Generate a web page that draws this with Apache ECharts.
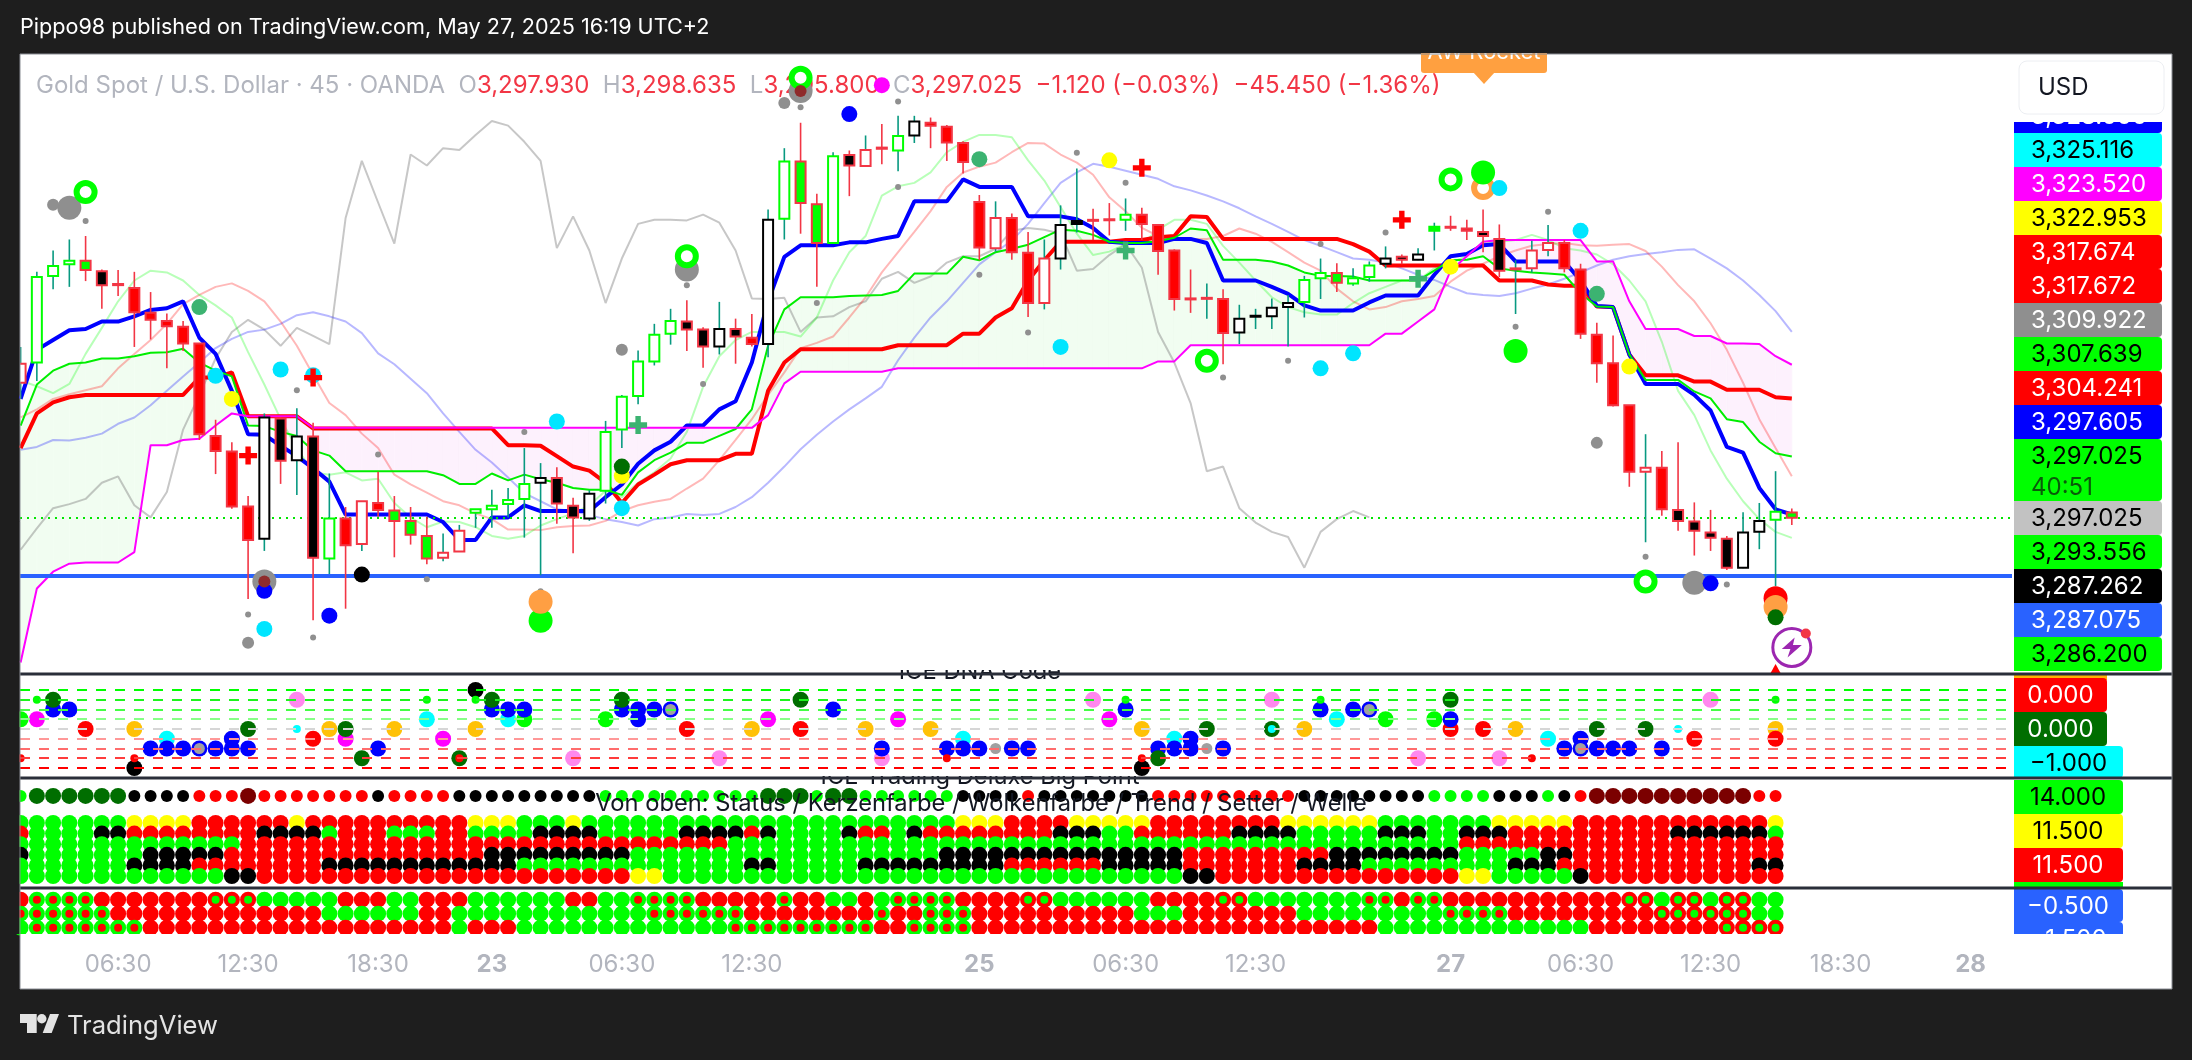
<!DOCTYPE html>
<html><head><meta charset="utf-8">
<style>html,body{margin:0;padding:0;background:#1e1e1e}#c{width:2192px;height:1060px}</style>
<script src="https://cdn.jsdelivr.net/npm/echarts@6/dist/echarts.min.js"></script>
</head><body><div id="c"></div><script>
const bodyTop=[3323.7,3338.7,3340.6,3341.5,3341.5,3339.7,3337.5,3336.8,3332.5,3331.1,
3330.1,3327.2,3311.2,3308.5,3299.0,3314.4,3314.2,3311.1,3311.1,3296.9,
3296.9,3299.9,3299.6,3298.3,3296.5,3293.9,3291.0,3294.8,3298.5,3299.1,
3300.1,3302.9,3303.9,3303.9,3299.1,3301.2,3311.9,3318.0,3324.1,3328.7,
3331.1,3331.0,3329.6,3329.7,3329.7,3328.2,3348.6,3358.7,3358.7,3351.3,
3359.6,3359.8,3360.7,3361.1,3363.1,3365.6,3365.4,3364.7,3361.9,3351.7,
3348.9,3348.9,3342.9,3341.9,3347.7,3348.4,3348.6,3348.7,3349.5,3349.5,
3347.7,3343.3,3335.0,3335.1,3334.9,3331.5,3332.0,3333.4,3334.2,3338.2,
3339.4,3339.4,3338.5,3340.7,3341.9,3342.2,3342.6,3347.4,3347.4,3347.1,
3346.5,3345.3,3340.2,3343.3,3344.6,3344.6,3340.0,3328.7,3323.8,3316.5,
3305.7,3305.7,3298.4,3296.4,3294.5,3293.4,3294.5,3296.5,3298.1,3297.93];
const bodyBottom=[3320.4,3323.9,3338.9,3340.9,3339.9,3337.3,3337.3,3332.6,3331.3,3330.2,
3327.2,3311.5,3308.6,3299.0,3293.2,3293.4,3306.9,3307.0,3290.1,3290.0,
3292.3,3292.5,3298.4,3296.5,3294.1,3290.0,3290.1,3291.2,3297.9,3298.5,
3299.4,3300.3,3303.1,3299.5,3297.1,3296.9,3301.7,3312.3,3318.1,3324.1,
3328.9,3329.6,3326.7,3326.7,3328.4,3327.1,3327.1,3348.8,3351.5,3344.6,
3344.6,3358.0,3357.9,3360.9,3360.6,3363.2,3364.9,3362.0,3358.6,3343.8,
3343.7,3343.0,3334.2,3334.2,3341.9,3347.9,3348.5,3348.6,3348.6,3347.9,
3343.2,3334.9,3334.9,3335.0,3329.0,3329.1,3331.9,3331.9,3333.5,3334.4,
3338.5,3337.7,3337.6,3338.7,3341.0,3341.7,3341.7,3346.7,3347.3,3346.7,
3345.8,3339.8,3340.1,3340.2,3343.4,3340.2,3328.9,3323.8,3316.5,3305.0,
3305.0,3298.5,3296.5,3294.8,3293.6,3288.4,3288.4,3294.6,3296.7,3297.025];
const wickHigh=[3326.6,3339.6,3343.3,3345.2,3345.8,3340.0,3339.9,3339.6,3336.1,3332.4,
3331.1,3327.2,3314.0,3310.1,3300.8,3315.1,3314.4,3316.0,3313.5,3304.7,
3298.9,3299.9,3305.0,3300.8,3298.9,3297.2,3294.3,3295.8,3298.5,3301.9,
3302.2,3309.1,3306.5,3305.8,3300.5,3301.8,3313.8,3318.3,3326.0,3330.6,
3333.2,3334.7,3330.0,3334.4,3331.5,3332.3,3350.4,3361.0,3365.4,3353.1,
3360.3,3360.6,3363.2,3365.2,3366.6,3366.6,3366.3,3365.0,3362.2,3352.9,
3351.8,3349.7,3346.5,3345.2,3351.1,3357.5,3350.5,3351.5,3352.3,3350.7,
3347.9,3343.5,3340.0,3337.6,3336.6,3333.9,3333.2,3335.0,3335.6,3338.9,
3341.9,3341.1,3340.2,3341.4,3344.0,3342.6,3343.7,3348.1,3349.3,3348.6,
3350.4,3347.8,3341.6,3345.0,3347.7,3345.1,3341.0,3330.8,3328.6,3316.5,
3311.5,3308.6,3310.1,3299.7,3298.4,3293.9,3298.0,3299.6,3305.1,3298.635];
const wickLow=[3317.6,3320.7,3336.6,3337.0,3338.0,3333.2,3335.4,3326.6,3327.9,3322.9,
3325.9,3310.5,3304.6,3298.6,3283.0,3291.3,3302.9,3301.0,3279.3,3287.3,
3281.3,3291.3,3297.2,3290.2,3292.4,3289.0,3289.5,3291.2,3295.3,3295.3,
3297.1,3293.6,3287.1,3296.0,3290.9,3296.5,3299.5,3309.1,3316.7,3323.4,
3327.0,3325.9,3323.0,3325.3,3323.7,3326.7,3324.8,3345.2,3346.2,3337.0,
3344.4,3352.7,3357.8,3358.2,3357.0,3361.9,3361.0,3358.8,3356.6,3341.6,
3343.1,3341.7,3331.8,3333.1,3340.0,3346.4,3345.1,3345.9,3346.7,3345.1,
3339.1,3332.9,3332.5,3331.5,3323.6,3327.1,3329.7,3329.7,3326.7,3331.7,
3334.9,3336.1,3337.2,3337.9,3340.2,3340.9,3341.6,3343.3,3346.7,3345.1,
3343.0,3338.7,3332.3,3339.5,3342.3,3339.5,3328.0,3320.4,3316.3,3302.4,
3292.8,3297.4,3294.8,3290.5,3291.3,3288.0,3288.3,3291.6,3285.2,3295.8];
const wickDir="uuuudddddd"+"dddddududu"+"dudddduuuu"+"uuudduuuuu"+"uddudduudd"+"ududuudddd"+"udduuuddud"+"ddduduuuuu"+"uduuuduudd"+"dduuuddddd"+"uddddduuud";
const candleFill="wwwwgkrrrr"+"rrrrrwkwkw"+"rwrgggwwww"+"wwwkkwwwww"+"wkkwkrwwgg"+"wkwrwwrrrr"+"wrrwwkrrwr"+"rrrrrwkwww"+"wgwwwkwgrr"+"kkrwwrrrrr"+"wrkkkkwwwg";
const candleEdge="rgggrrrrrr"+"rrrrrkrkrg"+"rrrrrrrrgg"+"ggkrrkgggg"+"grrkrrkgrr"+"grrrgkrrrr"+"rrrrkkrrgr"+"rrrrrkkkkg"+"grggkrkgrr"+"rrrrrrrrrr"+"rrrrrrkkgr";
const lineBlue=[3317.6,3326.1,3327.8,3329.5,3329.7,3331.0,3331.0,3331.9,3333.0,3333.3,
3334.5,3328.2,3325.4,3319.0,3311.5,3311.4,3309.5,3307.7,3305.6,3303.3,
3297.6,3297.6,3297.6,3297.6,3297.6,3297.6,3296.3,3293.2,3293.2,3297.1,
3297.1,3299.2,3298.2,3298.2,3298.2,3298.2,3300.6,3302.8,3306.4,3308.7,
3310.2,3313.0,3313.0,3315.8,3317.2,3323.9,3334.5,3342.2,3344.2,3344.2,
3344.2,3344.7,3344.7,3345.3,3345.8,3351.8,3351.8,3351.8,3355.6,3354.3,
3354.3,3354.3,3349.2,3349.2,3349.2,3348.7,3347.2,3344.8,3344.6,3344.6,
3344.6,3345.3,3345.3,3344.6,3338.1,3338.1,3338.1,3337.0,3335.8,3333.8,
3332.9,3332.9,3332.9,3334.3,3335.5,3335.5,3335.5,3339.1,3342.3,3342.7,
3344.2,3344.4,3341.4,3341.4,3341.4,3341.4,3338.1,3333.7,3333.5,3325.3,
3320.2,3320.2,3320.2,3318.3,3315.6,3309.3,3308.3,3302.2,3298.5,3297.605];
const lineRed=[3309.1,3315.1,3317.0,3317.9,3318.3,3318.3,3318.3,3318.3,3318.3,3318.3,
3318.3,3321.3,3321.3,3322.2,3314.6,3314.6,3314.6,3314.6,3312.5,3312.5,
3312.5,3312.5,3312.5,3312.5,3312.5,3312.5,3312.5,3312.5,3312.5,3312.5,
3309.6,3309.6,3309.5,3307.7,3305.9,3305.2,3303.1,3299.6,3302.8,3304.5,
3306.3,3307.0,3307.0,3307.0,3308.1,3308.1,3319.0,3323.9,3326.2,3326.2,
3326.2,3326.2,3326.2,3326.2,3326.9,3326.9,3326.9,3326.9,3328.9,3328.9,
3331.7,3333.3,3338.1,3341.6,3344.8,3344.8,3344.8,3344.8,3345.1,3345.1,
3345.6,3345.8,3349.2,3349.1,3345.3,3345.3,3345.3,3345.3,3345.3,3345.3,
3345.3,3345.3,3344.4,3343.1,3340.7,3340.7,3340.7,3340.7,3340.7,3340.7,
3340.7,3338.1,3338.1,3338.1,3337.4,3337.2,3337.2,3333.6,3333.5,3325.3,
3321.7,3321.7,3321.7,3320.6,3320.6,3319.2,3319.2,3319.2,3317.9,3317.674];
const lineGreen=[3313.0,3320.1,3322.5,3323.7,3323.9,3324.6,3324.6,3325.0,3325.6,3325.7,
3326.3,3323.9,3322.5,3321.5,3313.0,3312.9,3311.9,3311.2,3308.7,3307.8,
3305.1,3305.1,3305.1,3305.1,3305.1,3305.1,3304.4,3302.9,3302.9,3304.7,
3303.5,3304.5,3303.7,3303.1,3302.2,3301.9,3301.9,3301.0,3304.9,3307.0,
3308.3,3310.0,3310.0,3311.2,3312.4,3315.8,3326.8,3333.1,3335.2,3335.2,
3335.2,3335.4,3335.5,3335.6,3336.3,3339.3,3339.3,3339.3,3342.2,3341.6,
3343.0,3343.6,3344.3,3345.6,3346.9,3346.7,3346.0,3344.8,3344.6,3344.6,
3344.9,3345.5,3347.1,3346.8,3341.7,3341.7,3341.7,3341.4,3340.7,3339.5,
3338.9,3338.9,3338.8,3338.1,3338.1,3338.1,3338.1,3339.8,3341.6,3341.7,
3342.3,3340.2,3339.8,3339.5,3339.3,3339.1,3335.9,3333.6,3333.5,3325.3,
3320.9,3320.9,3320.9,3318.9,3317.7,3314.1,3313.6,3310.2,3308.2,3307.639];
const lineMagenta=[3272.0,3284.8,3287.7,3289.1,3289.3,3289.3,3289.3,3291.1,3309.6,3309.6,
3310.5,3310.7,3313.0,3315.1,3314.6,3314.6,3314.6,3314.6,3312.6,3312.6,
3312.6,3312.6,3312.6,3312.6,3312.6,3312.6,3312.6,3312.6,3312.6,3312.6,
3312.6,3312.6,3312.6,3312.6,3312.6,3312.6,3312.6,3312.6,3312.6,3312.6,
3312.6,3312.6,3312.6,3312.6,3312.6,3312.6,3314.8,3320.3,3322.3,3322.3,
3322.3,3322.3,3322.3,3322.3,3322.9,3322.9,3322.9,3322.9,3322.9,3322.9,
3322.9,3322.9,3322.9,3322.9,3322.9,3322.9,3322.9,3322.9,3322.9,3322.9,
3324.1,3324.1,3326.9,3326.9,3326.9,3326.9,3326.9,3326.9,3326.9,3326.9,
3326.9,3326.9,3326.9,3326.9,3328.9,3328.9,3331.0,3333.1,3339.8,3342.3,
3344.8,3345.1,3345.1,3345.1,3345.1,3345.1,3345.1,3341.4,3341.4,3334.5,
3329.7,3329.7,3329.7,3328.5,3328.5,3327.2,3327.2,3327.1,3325.0,3323.52];
const lineFadedGreen=[3320.8,3319.8,3318.6,3320.2,3325.4,3329.9,3334.5,3338.1,3339.8,3339.5,
3338.1,3335.6,3333.8,3331.7,3325.7,3320.1,3314.1,3309.1,3304.9,3304.5,
3304.9,3303.5,3303.8,3299.6,3297.1,3295.4,3296.4,3296.3,3295.4,3293.9,
3293.4,3293.9,3295.7,3296.8,3297.8,3299.2,3301.7,3300.6,3303.1,3304.9,
3307.3,3311.9,3319.7,3325.0,3327.8,3329.2,3329.2,3329.2,3328.4,3331.7,
3338.1,3343.0,3345.8,3352.8,3354.4,3355.0,3356.8,3360.3,3362.1,3363.3,
3363.3,3362.9,3358.9,3355.4,3350.8,3346.2,3342.5,3343.1,3344.4,3344.4,
3346.9,3348.6,3348.6,3347.9,3344.1,3341.2,3338.1,3335.2,3333.5,3332.6,
3332.2,3332.2,3334.2,3335.9,3337.0,3338.1,3338.1,3340.2,3341.2,3342.3,
3344.8,3344.8,3345.1,3346.0,3345.1,3343.7,3343.3,3342.6,3340.9,3338.1,
3334.5,3327.5,3319.0,3314.8,3308.7,3303.8,3299.9,3296.8,3294.6,3293.556];
const lineFadedRed=[3314.4,3315.8,3317.6,3318.4,3319.1,3319.8,3322.9,3325.4,3327.8,3330.6,
3334.0,3335.6,3337.0,3337.6,3336.3,3334.5,3331.0,3326.8,3321.8,3316.9,
3314.8,3311.6,3309.1,3304.5,3302.8,3301.4,3299.9,3299.2,3297.8,3296.8,
3295.0,3295.0,3294.9,3295.4,3295.6,3295.7,3296.5,3298.2,3299.2,3299.8,
3300.3,3302.1,3303.8,3307.0,3310.5,3314.1,3318.3,3322.2,3326.4,3327.3,
3328.4,3331.7,3335.2,3339.5,3343.0,3346.5,3350.1,3354.3,3356.8,3357.8,
3358.5,3360.3,3361.9,3361.8,3359.9,3358.5,3356.4,3352.5,3350.1,3347.2,
3345.8,3345.3,3345.3,3345.3,3345.8,3347.1,3346.2,3344.8,3343.0,3341.2,
3339.8,3336.7,3334.5,3333.1,3333.5,3334.5,3334.9,3335.4,3337.9,3339.8,
3341.0,3342.3,3343.3,3344.1,3344.4,3344.6,3344.2,3344.1,3344.3,3344.4,
3343.2,3340.5,3337.3,3334.5,3330.7,3326.1,3320.4,3314.1,3309.1,3304.241];
const lineFadedBlue=[3308.8,3309.3,3310.5,3310.4,3310.9,3311.6,3313.3,3314.4,3316.5,3319.0,
3321.5,3323.9,3326.4,3328.0,3329.2,3329.6,3330.6,3332.1,3332.6,3331.9,
3331.0,3329.0,3325.5,3323.6,3321.1,3318.6,3315.1,3311.9,3308.8,3306.6,
3304.0,3301.3,3299.9,3298.5,3298.2,3297.5,3296.8,3296.3,3295.7,3296.8,
3297.1,3297.7,3297.5,3297.7,3298.9,3300.6,3303.1,3305.9,3308.9,3311.4,
3313.7,3315.8,3317.7,3319.7,3324.3,3328.2,3331.7,3334.5,3337.7,3340.9,
3343.0,3345.0,3347.9,3351.5,3355.0,3356.8,3358.3,3357.8,3357.1,3356.4,
3355.7,3354.4,3353.7,3352.8,3351.8,3350.6,3349.2,3347.9,3346.5,3345.1,
3344.1,3343.0,3341.9,3341.7,3341.2,3340.2,3339.1,3338.2,3337.0,3335.9,
3335.6,3335.4,3335.9,3336.7,3337.4,3338.4,3339.5,3340.7,3341.7,3342.3,
3342.7,3343.0,3343.4,3343.5,3341.9,3340.2,3338.1,3335.6,3332.8,3329.2];
const lineGray=[3291.5,3295.2,3298.7,3299.4,3300.3,3303.1,3304.2,3299.2,3297.1,3301.5,
3312.3,3318.3,3324.6,3329.2,3331.3,3329.6,3326.8,3329.9,3328.5,3327.1,
3348.9,3358.8,3351.6,3344.5,3359.9,3358.0,3361.0,3360.7,3363.3,3365.7,
3364.9,3362.1,3358.8,3343.7,3349.2,3343.3,3334.2,3341.9,3347.9,3348.6,
3348.6,3348.5,3349.5,3348.1,3343.3,3335.0,3334.9,3335.1,3329.2,3331.7,
3331.9,3333.5,3334.5,3338.4,3339.6,3337.7,3338.8,3341.2,3342.3,3342.3,
3343.6,3346.7,3347.2,3346.9,3346.2,3339.8,3340.1,3342.5,3344.4,3340.3,
3329.2,3323.9,3316.9,3305.1,3305.9,3298.7,3296.2,3294.6,3293.7,3288.4,
3294.6,3296.8,3298.2,3297.1];
const lastClose=3297.025, supportLevel=3287.075;

const grayTiny=[[4,3348.4],[17,3319.1],[14,3280.3],[18,3276.3],[22,3308.0],[25,3286.4],[31,3311.9],[32,3284.3],[41,3337.3],[48,3368.1],[54,3369.1],[54,3354.3],[42,3320.2],[49,3334.2],[59,3339.1],[62,3329.1],[65,3360.2],[68,3355.0],[74,3321.3],[78,3324.2],[80,3344.4],[84,3346.4],[90,3352.7],[94,3350.0],[92,3330.1],[100,3290.3],[105,3285.5]];
const grayMid=[[2,3351.2],[14,3275.4],[37,3326.1],[47,3368.8],[97,3310.0]];
const grayBig=[[3,3350.7],[15,3286.0],[41,3340.0],[48,3370.9],[103,3285.8]];
const darkRedCore=[[15,3286.0],[48,3370.9]];
const ringGreen=[[4,3353.4],[41,3342.3],[48,3373.2],[73,3324.2],[88,3355.6],[100,3286.0]];
const ringOrange=[[90,3354.1]];
const dotSeaGreen=[[11,3333.5],[59,3359.1],[97,3335.8]];
const dotCyan=[[12,3321.6],[16,3322.7],[18,3321.7],[15,3277.8],[33,3313.7],[37,3298.7],[64,3326.6],[80,3322.9],[82,3325.5],[91,3354.1],[96,3346.7]];
const dotYellow=[[13,3317.6],[37,3304.3],[67,3358.9],[88,3340.5],[99,3323.2]];
const dotBlue=[[15,3284.4],[19,3280.1],[51,3366.9],[104,3285.7]];
const dotBlack=[[21,3287.2]];
const dotDarkGreen=[[37,3305.9],[108,3279.8]];
const bigOrange=[[32,3282.5],[108,3281.6]];
const bigGreen=[[32,3279.2],[90,3356.8],[92,3325.9]];
const bigRed=[[108,3283.1]];
const dotMagenta=[[53,3371.9]];
const plusRed=[[14,3307.8],[18,3321.3],[69,3357.6],[85,3348.6]];
const plusGreen=[[38,3313.1],[68,3343.3],[86,3338.4]];
const alertIcon=[[109,3274.6]];
const alertTriangle=[[108,3270.0]];

const dnaLevels=[4,3,2,1,0,-1,-2,-3,-4];
const dnaGreen=[[0,1],[31,1],[36,1],[84,1],[87,1]];
const dnaCyan=[[9,-1],[25,1],[30,1],[58,-1],[71,-1],[81,1],[94,-1]];
const dnaMagenta=[[1,1],[20,-1],[26,-1],[46,1],[54,1],[67,1]];
const dnaPink=[[17,3],[34,-3],[43,-3],[53,-3],[66,3],[77,3],[86,-3],[91,-3],[104,3]];
const dnaOrange=[[7,0],[19,0],[23,0],[28,0],[45,0],[52,0],[56,0],[69,0],[79,0],[92,0],[108,0]];
const dnaRed=[[4,0],[18,-1],[41,0],[48,0],[88,0],[90,0],[103,-1],[108,-1]];
const dnaBlue=[[2,2],[3,2],[8,-2],[9,-2],[10,-2],[11,-2],[12,-2],[13,-1],[13,-2],[14,-2],[22,-2],[29,2],[30,2],[31,2],[37,2],[38,2],[38,1],[39,2],[40,2],[50,2],[53,-2],[57,-2],[58,-2],[59,-2],[61,-2],[62,-2],[68,2],[70,-2],[71,-2],[72,-1],[72,-2],[74,-2],[80,2],[82,2],[83,2],[88,1],[95,-2],[96,-1],[96,-2],[97,-2],[98,-2],[99,-2],[101,-2]];
const dnaDarkGreen=[[2,3],[14,0],[20,0],[21,-3],[27,-3],[29,3],[37,3],[48,3],[70,-3],[73,0],[77,0],[88,3],[97,0],[100,0]];
const dnaBlack=[[7,-4],[28,4],[69,-4]];
const dnaGrayCore=[[11,-2],[40,2],[83,2],[96,-2]];
const dnaGraySmall=[[60,-2],[73,-2]];
const dnaGreenSmall=[[1,3],[25,3],[28,3],[68,3],[80,3],[108,3]];
const dnaRedSmall=[[0,-3],[7,-3],[27,-3],[57,-3],[69,-3],[93,-3]];
const dnaCyanSmall=[[17,0],[77,0],[102,0]];

const rowStatus="G1D6k4r3M1r7k1r4k9G10D3G1D2G6k4r1k7r9k8G4k3G1k1r1M10r2";
const rowCandle="g7y4r6y1r10y3g3y1g23y3r4y5r8y6g7y5r12y1";
const rowCloud="r1g4k2r8k4g1r3g3r2g4k4g5k4r1k1g4k1r2g1k1r8k3g2r6k4g5k3g2k3r10k6g1";
const rowTrend="g14r30g45r20";
const rowSetter="k1g7k5r16k9g19k15r9k8g5k2r13";
const rowWave="g7k4r8k12g14k2g5k9r6k5r7k4g9k3r12k2";
const rowBottom="g13k2r23y2g32k2r15y2g5k1r12";
const rowLowerA="r1a4r7b3g5r3g2r3g6r2g2a4r5a1r2g2r1g1a4r4b2g6r4b2g7a2r1a2r11b2g1b2g1b2g2";
const rowLowerB="a6r13g6r2g12a6r8a1r2a3r10g3r7g9a4r9b6g2";
const rowLowerC="g1a7r19g1r3g13a9r2a4r25g13r8b4";

const timeTicks=[6,14,22,29,37,45,59,68,76,88,96,104,112,120];
const timeLabels=['06:30','12:30','18:30','23','06:30','12:30','25','06:30','12:30','27','06:30','12:30','18:30','28'];
const priceLabels=['3,328.000','3,325.116','3,323.520','3,322.953','3,317.674','3,317.672','3,309.922','3,307.639','3,304.241','3,297.605','3,297.025','3,297.025','3,293.556','3,287.262','3,287.075','3,286.200'];
const countdownLabel='40:51';
const dnaAxisLabels=['0.000','0.000','\u22121.000'];
const bigAxisLabels=['14.000','11.500','11.500'];
const lowerAxisLabels=['\u22120.500','\u22121.500'];

function expand(s){const o=[];s.replace(/([a-zA-Z])(\d+)/g,(m,c,n)=>{for(let k=0;k<+n;k++)o.push(c);return m});return o;}

const X0=-0.037, X1=122.55;
const C={w:'#ffffff',g:'#00ff00',r:'#ff0000',k:'#000000',y:'#ffff00',G:'#00ff00',D:'#006e00',M:'#7b0000'};
const EDGE={g:'#00ff00',r:'#f23645',k:'#000000'};
const FONT='Inter, "Noto Sans", sans-serif';

const candleData=bodyTop.map((t,i)=>[i,t,bodyBottom[i],wickHigh[i],wickLow[i]]);
function renderCandle(params,api){
  const i=api.value(0),x=api.coord([i,0])[0];
  const yT=api.coord([i,api.value(1)])[1],yB=api.coord([i,api.value(2)])[1],yH=api.coord([i,api.value(3)])[1],yL=api.coord([i,api.value(4)])[1];
  const wick=wickDir[i]==='u'?'#089981':'#f23645';
  const h=Math.max(yB-yT,1);
  return {type:'group',children:[
    {type:'line',shape:{x1:x,y1:yH,x2:x,y2:yL},style:{stroke:wick,lineWidth:1.6}},
    {type:'rect',shape:{x:x-5,y:yT,width:10,height:h},style:{fill:C[candleFill[i]],stroke:EDGE[candleEdge[i]],lineWidth:2}}
  ]};
}
const cloudData=lineGreen.slice(0,-1).map((g,i)=>[i,g,lineMagenta[i],lineGreen[i+1],lineMagenta[i+1]]);
function renderCloud(params,api){
  const i=api.value(0),a=api.value(1),b=api.value(2),c=api.value(3),d=api.value(4);
  const col=(a+c)>=(b+d)?'#f1fdf1':'#fdf1fd';
  return {type:'polygon',shape:{points:[api.coord([i,a]),api.coord([i+1,c]),api.coord([i+1,d]),api.coord([i,b])]},style:{fill:col,stroke:col,lineWidth:0.6}};
}
function renderAlertTriangle(params,api){
  const p=api.coord([api.value(0),api.value(1)]);
  return {type:'polygon',shape:{points:[[p[0],p[1]-10],[p[0]+10,p[1]+8],[p[0]-10,p[1]+8]]},style:{fill:'#ff0000'}};
}
const line=(data,color,width,z)=>({type:'line',xAxisIndex:0,yAxisIndex:0,data:data.map((v,i)=>[i,v]),showSymbol:false,symbol:'none',lineStyle:{color,width},z,silent:true});
const dots=(data,color,size,z,extra)=>Object.assign({type:'scatter',xAxisIndex:0,yAxisIndex:0,data,symbol:'circle',symbolSize:size,itemStyle:{color,opacity:1},z:z||6,silent:true},extra||{});
const ring=(data,color)=>({type:'scatter',xAxisIndex:0,yAxisIndex:0,data,symbol:'circle',symbolSize:18,itemStyle:{color:'#ffffff',borderColor:color,borderWidth:6,opacity:1},z:6,silent:true});
const PLUS='path://M35 0H65V35H100V65H65V100H35V65H0V35H35Z';
const BOLT='path://M60 0L15 58H45L35 100L85 38H54Z';
const dna=(data,color,size)=>({type:'scatter',xAxisIndex:1,yAxisIndex:1,data,symbol:'circle',symbolSize:size||16,itemStyle:{color,opacity:1},z:3,silent:true});
const dnaColors=['#00ff00','#1cf51c','#44ff44','#88ff88','#d6d6d6','#ff9898','#ff6c6c','#ff3c3c','#ff0000'];
const bigRow=(str,y)=>({type:'scatter',xAxisIndex:2,yAxisIndex:2,data:expand(str).map((c,i)=>[i,y,c]),symbol:'circle',symbolSize:16,itemStyle:{color:p=>C[p.data[2]],opacity:1},z:3+0.01*(5-y),silent:true});
const statusRow={type:'scatter',xAxisIndex:2,yAxisIndex:2,data:expand(rowStatus).map((c,i)=>[i,7.55,c]),symbol:'circle',symbolSize:(v)=>(v[2]==='D'||v[2]==='M')?16:12,itemStyle:{color:p=>C[p.data[2]],opacity:1},z:3,silent:true};
const lowerOuter=(str,y)=>({type:'scatter',xAxisIndex:3,yAxisIndex:3,data:expand(str).map((c,i)=>[i,y,c]),symbol:'circle',symbolSize:16,itemStyle:{color:p=>(p.data[2]==='g'||p.data[2]==='a')?'#00ff00':'#ff0000',opacity:1},z:3,silent:true});
const lowerInner=(str,y)=>({type:'scatter',xAxisIndex:3,yAxisIndex:3,data:expand(str).map((c,i)=>[i,y,c]).filter(d=>d[2]==='a'||d[2]==='b'),symbol:'circle',symbolSize:8,itemStyle:{color:p=>p.data[2]==='a'?'#ff0000':'#00ff00',opacity:1},z:4,silent:true});

const series=[
 {type:'custom',xAxisIndex:0,yAxisIndex:0,data:cloudData,renderItem:renderCloud,encode:{x:0,y:[1,2,3,4]},z:2,silent:true,clip:true},
 line(lineGray,'rgba(130,130,130,0.45)',2,3),
 line(lineFadedBlue,'rgba(0,0,255,0.28)',2,3),
 line(lineFadedRed,'rgba(255,0,0,0.28)',2,3),
 line(lineFadedGreen,'rgba(0,255,0,0.28)',2,3),
 Object.assign(line(lineRed,'#ff0000',4,4),{markLine:{silent:true,symbol:'none',label:{show:false},animation:false,data:[{yAxis:lastClose,lineStyle:{color:'#00e600',type:[2,5],width:2}},{yAxis:supportLevel,lineStyle:{color:'#2962ff',type:'solid',width:4}}]}}),
 line(lineBlue,'#0000ff',4,4),
 line(lineGreen,'#00ee00',2,4),
 line(lineMagenta,'#ff00ff',2,4),
 {type:'custom',xAxisIndex:0,yAxisIndex:0,data:candleData,renderItem:renderCandle,encode:{x:0,y:[1,2,3,4]},z:5,silent:true,clip:true},
 dots(grayBig,'#8f8f8f',24),dots(grayMid,'#8f8f8f',12),dots(grayTiny,'#8f8f8f',6),
 dots(darkRedCore,'#8f2a2a',12,7),
 ring(ringGreen,'#00ff00'),ring(ringOrange,'#ff9f43'),
 dots(dotCyan,'#00e5ff',16),dots(dotSeaGreen,'#3cb371',16),dots(dotYellow,'#ffff00',16),dots(dotBlue,'#0000ff',16),dots(dotBlack,'#000000',16),dots(dotMagenta,'#ff00ff',16),
 dots(bigRed,'#ff0000',24,6),dots(bigGreen,'#00ff00',24,6),dots(bigOrange,'#ff9f43',24,7),dots(dotDarkGreen,'#006e00',16,8),
 dots(plusRed,'#ff0000',18,8,{symbol:PLUS}),dots(plusGreen,'#3cb371',18,8,{symbol:PLUS}),
 {type:'custom',xAxisIndex:0,yAxisIndex:0,data:alertTriangle,renderItem:renderAlertTriangle,encode:{x:0,y:1},z:8,silent:true,clip:true},
 {type:'scatter',xAxisIndex:0,yAxisIndex:0,data:alertIcon,symbol:'circle',symbolSize:38,itemStyle:{color:'#ffffff',borderColor:'#9c27b0',borderWidth:3,opacity:1},z:8,silent:true},
 dots(alertIcon,'#9c27b0',20,9,{symbol:BOLT}),
 dots(alertIcon,'#f23645',10,9,{symbolOffset:[14,-14]}),
 {type:'line',xAxisIndex:1,yAxisIndex:1,data:[[0,0]],showSymbol:false,symbol:'none',z:6,silent:true,lineStyle:{width:0},markLine:{silent:true,symbol:'none',label:{show:false},animation:false,data:dnaLevels.map((v,i)=>({yAxis:v,lineStyle:{color:dnaColors[i],type:[10,9],width:2}}))}},
 dna(dnaGreen,'#00ff00'),dna(dnaCyan,'#00ffff'),dna(dnaMagenta,'#ff00ff'),dna(dnaPink,'#ff88ee'),dna(dnaOrange,'#ffc107'),dna(dnaRed,'#ff0000'),dna(dnaBlue,'#0000ff'),dna(dnaDarkGreen,'#006e00'),dna(dnaBlack,'#000000'),
 Object.assign(dna(dnaGrayCore,'#a0a0a0',11),{z:4}),Object.assign(dna(dnaGraySmall,'#a0a0a0',11),{z:4}),
 Object.assign(dna(dnaGreenSmall,'#00ff00',8),{z:4}),Object.assign(dna(dnaRedSmall,'#ff0000',8),{z:4}),Object.assign(dna(dnaCyanSmall,'#00ffff',8),{z:4}),
 statusRow,
 bigRow(rowCandle,5),bigRow(rowCloud,4),bigRow(rowTrend,3),bigRow(rowSetter,2),bigRow(rowWave,1),bigRow(rowBottom,0),
 lowerOuter(rowLowerA,2),lowerOuter(rowLowerB,1),lowerOuter(rowLowerC,0),
 lowerInner(rowLowerA,2),lowerInner(rowLowerB,1),lowerInner(rowLowerC,0)
];

const hiddenX=(g)=>({type:'value',gridIndex:g,min:X0,max:X1,show:false});
const hiddenY=(g,min,max)=>({type:'value',gridIndex:g,min,max,show:false});

const G=[];
const rect=(x,y,w,h,fill,z,extra)=>G.push({type:'rect',silent:true,shape:{x,y,width:w,height:h,r:extra&&extra.r||0},style:{fill,stroke:extra&&extra.stroke,lineWidth:extra&&extra.stroke?1:0},z});
const txt=(x,y,text,fill,size,z,align,weight)=>G.push({type:'text',silent:true,z,style:{x,y,text,fill,font:(weight||'400')+' '+size+'px '+FONT,textAlign:align||'left',textVerticalAlign:'middle'}});

rect(20,54,2152,935,'#ffffff',0.1);
txt(980,777,'ICE Trading Deluxe Big Point','#131722',23.7,0.5,'center');
rect(20,676,1992,100,'#ffffff',0.55);
txt(980,672,'ICE DNA Code','#131722',23.7,0.56,'center');
rect(20,54,1992,616,'#ffffff',0.6);
txt(981,804,'Von oben: Status / Kerzenfarbe / Wolkenfarbe / Trend / Setter / Welle','#131722',23.7,20,'center');
// rocket tag
rect(1421,40,126,33,'#ffa040',0.7,{r:3});
G.push({type:'polygon',silent:true,z:0.7,shape:{points:[[1473,72],[1495,72],[1484,84]]},style:{fill:'#ffa040'}});
txt(1484,52,'AW Rocket','#ffffff',22,0.8,'center');
rect(0,0,2192,53,'#1e1e1e',0.9);
// legend line
G.push({type:'text',silent:true,z:1,style:{x:36,y:86,textVerticalAlign:'middle',font:'400 24px '+FONT,
 text:'{g|Gold Spot / U.S. Dollar \u00b7 45 \u00b7 OANDA  O}{r|3,297.930}{g|  H}{r|3,298.635}{g|  L}{r|3,295.800}{g|  C}{r|3,297.025}{r|  \u22121.120 (\u22120.03%)  \u221245.450 (\u22121.36%)}',
 rich:{g:{fill:'#b2b5be',font:'400 24px '+FONT},r:{fill:'#f23645',font:'400 24px '+FONT}}}});
// header and footer
txt(20,27,'Pippo98 published on TradingView.com, May 27, 2025 16:19 UTC+2','#ffffff',21.6,5);
G.push({type:'polygon',silent:true,z:5,shape:{points:[[20,1014],[36.7,1014],[36.7,1033],[27,1033],[27,1023],[20,1023]]},style:{fill:'#e3e3e3'}});
G.push({type:'circle',silent:true,z:5,shape:{cx:41.8,cy:1018.8,r:4.7},style:{fill:'#e3e3e3'}});
G.push({type:'polygon',silent:true,z:5,shape:{points:[[50,1014],[59,1014],[51.7,1033],[42.7,1033]]},style:{fill:'#e3e3e3'}});
txt(67,1026,'TradingView','#e3e3e3',25.6,5);
// price labels
const PX=2014, TX=2031, PW=148;
const pStyles=[['#0000ff','#ffffff',99,34],['#00ffff','#000000',133,34],['#ff00ff','#ffffff',167,34],['#ffff00','#000000',201,34],['#ff0000','#ffffff',235,34],['#ff0000','#ffffff',269,34],['#8f8f8f','#ffffff',303,34],['#00ff00','#000000',337,34],['#ff0000','#ffffff',371,34],['#0000ff','#ffffff',405,34],['#00ff00','#000000',439,62],['#c2c2c2','#000000',501,34],['#00ff00','#000000',535,34],['#000000','#ffffff',569,34],['#2962ff','#ffffff',603,34],['#00ff00','#000000',637,34]];
pStyles.forEach((s,i)=>{rect(PX,s[2],PW,s[3],s[0],0.2,{r:[0,4,4,0]});txt(TX,s[2]+18,priceLabels[i],s[1],24,0.25);});
txt(TX,488,countdownLabel,'#0a5a0a',24,0.25);
rect(2012,54,160,68,'#ffffff',0.4);
rect(2019,61,145,53,'#ffffff',0.5,{r:8,stroke:'#eceef2'});
txt(2038,88,'USD','#131722',24,0.6);
// pane labels
rect(PX,675,93,5,'#ffb300',0.2);
[['#ff0000','#ffffff',678,34,93],['#006e00','#ffffff',712,34,93],['#00ffff','#000000',746,32,109]].forEach((s,i)=>{rect(PX,s[2],s[4],s[3],s[0],0.2,{r:[0,4,4,0]});txt(PX+s[4]/2,s[2]+18,dnaAxisLabels[i],s[1],24,0.25,'center');});
[['#00ff00','#000000',780,34],['#ffff00','#000000',814,34],['#ff0000','#ffffff',848,34]].forEach((s,i)=>{rect(PX,s[2],109,s[3],s[0],0.2,{r:[0,4,4,0]});txt(PX+54,s[2]+18,bigAxisLabels[i],s[1],24,0.25,'center');});
rect(PX,882,109,6,'#00ff00',0.2);
[['#2962ff','#ffffff',889,33],['#2962ff','#ffffff',922,34]].forEach((s,i)=>{rect(PX,s[2],109,s[3],s[0],0.2,{r:[0,4,4,0]});txt(PX+54,s[2]+18,lowerAxisLabels[i],s[1],24,0.25,'center');});
rect(2012,934,160,55,'#ffffff',0.4);
// covers that clip the dot rows at the pane edges
rect(0,676,19.5,258,'#1e1e1e',9);
rect(20,934,1992,55,'#ffffff',9);
// separators and frame
[674,778,888].forEach(y=>rect(20,y-1.5,2152,3,'#2a2e39',10));
rect(20,54,2152,935,'rgba(0,0,0,0)',10,{stroke:'#8a8d94'});

const chart=echarts.init(document.getElementById('c'),null,{renderer:'canvas'});
chart.setOption({
 animation:false,backgroundColor:'#1e1e1e',
 grid:[
  {left:20,width:1992,top:54,height:620},
  {left:20,width:1992,top:676,height:102},
  {left:20,width:1992,top:778,height:110},
  {left:20,width:1992,top:889,height:45},
  {left:20,width:1992,top:934,height:2}
 ],
 xAxis:[hiddenX(0),hiddenX(1),hiddenX(2),hiddenX(3),
  {type:'value',gridIndex:4,min:X0,max:X1,position:'bottom',z:12,axisLine:{show:false},axisTick:{show:false},splitLine:{show:false},
   axisLabel:{show:true,customValues:timeTicks,margin:17,color:'#b2b5be',fontSize:24,fontFamily:FONT,hideOverlap:false,showMinLabel:true,showMaxLabel:true,
    formatter:v=>{const k=timeTicks.indexOf(v);const t=k<0?'':timeLabels[k];return t.length===2?'{d|'+t+'}':t;},
    rich:{d:{fontWeight:'bold',fontSize:24,color:'#b2b5be',fontFamily:FONT}}}}],
 yAxis:[hiddenY(0,3270,3377.3),hiddenY(1,-5.026,5.436),hiddenY(2,-1.132,9.245),hiddenY(3,-0.45,2.76),hiddenY(4,0,1)],
 series,
 graphic:{elements:G}
});
</script></body></html>
